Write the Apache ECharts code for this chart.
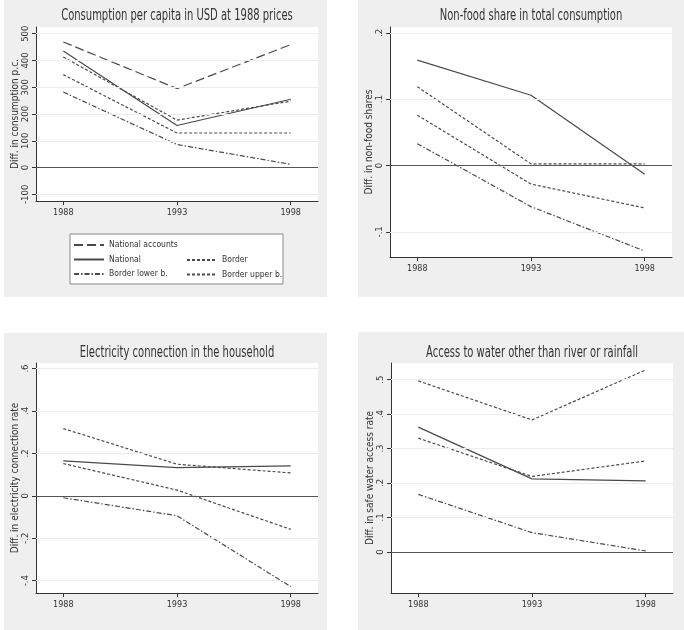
<!DOCTYPE html>
<html>
<head>
<meta charset="utf-8">
<script src="https://cdn.jsdelivr.net/npm/echarts@6/dist/echarts.min.js"></script>
<style>
  html, body { margin: 0; padding: 0; background: #fff; }
  #chart { width: 684px; height: 630px; }
</style>
</head>
<body>
<div id="chart"></div>
<script>
// survey years on the x axis
const years = [1988, 1993, 1998]

// consumption per capita (USD at 1988 prices)
const consNatAccounts = [469, 295, 459]
const consNational = [435, 157, 255]
const consBorder = [347, 129, 129]
const consLower = [282, 86, 12]
const consUpper = [413, 177, 248]
const consTicks = [-100, 0, 100, 200, 300, 400, 500]

// non-food share
const nonfoodNational = [0.159, 0.106, -0.013]
const nonfoodUpper = [0.119, 0.0025, 0.0025]
const nonfoodBorder = [0.076, -0.028, -0.064]
const nonfoodLower = [0.033, -0.062, -0.129]
const nonfoodTicks = [-0.1, 0, 0.1, 0.2]

// electricity connection
const elecNational = [0.165, 0.133, 0.141]
const elecUpper = [0.317, 0.149, 0.108]
const elecBorder = [0.152, 0.027, -0.158]
const elecLower = [-0.009, -0.094, -0.428]
const elecTicks = [-0.4, -0.2, 0, 0.2, 0.4, 0.6]

// safe water access
const waterNational = [0.362, 0.212, 0.206]
const waterUpper = [0.496, 0.383, 0.528]
const waterBorder = [0.330, 0.219, 0.264]
const waterLower = [0.167, 0.056, 0.003]
const waterTicks = [0, 0.1, 0.2, 0.3, 0.4, 0.5]

const FONT = '"Liberation Sans Narrow", "DejaVu Sans Condensed", "Liberation Sans", sans-serif'
const LINE = '#4a4a4a'

const dashes = {
  'National accounts': [9, 4],
  'National': 'solid',
  'Border': [3, 2],
  'Border lower b.': [5, 2, 1.5, 2],
  'Border upper b.': [3, 2]
}

// stata style: .2, -.1
function fmt(v) {
  if (Math.abs(v) >= 1) return String(v)
  const s = String(Math.round(v * 10) / 10)
  return s.replace('0.', '.')
}

function pairs(vals) {
  return years.map((y, i) => [y, vals[i]])
}

function line(name, vals, idx) {
  return {
    name: name,
    type: 'line',
    xAxisIndex: idx,
    yAxisIndex: idx,
    data: pairs(vals),
    symbol: 'none',
    z: 3,
    lineStyle: { color: LINE, width: 1.2, type: dashes[name] },
    itemStyle: { color: LINE },
    animation: false
  }
}

function gridLines(ticks, idx) {
  return {
    name: 'grid' + idx,
    type: 'line',
    xAxisIndex: idx,
    yAxisIndex: idx,
    data: [],
    z: 1,
    silent: true,
    animation: false,
    markLine: {
      silent: true,
      symbol: 'none',
      label: { show: false },
      animation: false,
      data: ticks.map(v => ({
        yAxis: v,
        lineStyle: { color: v === 0 ? '#555' : '#ececec', width: 1, type: 'solid' }
      }))
    }
  }
}

const panels = [
  { left: 36, top: 27, width: 282, height: 174, min: -125, max: 525, ticks: consTicks,
    title: 'Consumption per capita in USD at 1988 prices', name: 'Diff. in consumption p.c.' },
  { left: 390, top: 27, width: 282, height: 230, min: -0.138, max: 0.209, ticks: nonfoodTicks,
    title: 'Non-food share in total consumption', name: 'Diff. in non-food shares' },
  { left: 36, top: 363, width: 282, height: 230, min: -0.458, max: 0.626, ticks: elecTicks,
    title: 'Electricity connection in the household', name: 'Diff. in electricity connection rate' },
  { left: 391, top: 363, width: 282, height: 230, min: -0.119, max: 0.548, ticks: waterTicks,
    title: 'Access to water other than river or rainfall', name: 'Diff. in safe water access rate' }
]

const chart = echarts.init(document.getElementById('chart'), null, { renderer: 'canvas' })

const legendText = { fontFamily: FONT, fontSize: 8.5, color: '#333' }

chart.setOption({
  backgroundColor: '#fff',
  animation: false,
  graphic: [
    { type: 'rect', shape: { x: 4, y: 0, width: 323, height: 297 }, style: { fill: '#efefef' }, z: -10 },
    { type: 'rect', shape: { x: 358, y: 0, width: 326, height: 297 }, style: { fill: '#efefef' }, z: -10 },
    { type: 'rect', shape: { x: 4, y: 333, width: 323, height: 297 }, style: { fill: '#efefef' }, z: -10 },
    { type: 'rect', shape: { x: 358, y: 332, width: 326, height: 298 }, style: { fill: '#efefef' }, z: -10 },
    // legend box
    { type: 'rect', shape: { x: 70, y: 234, width: 213, height: 50 },
      style: { fill: '#fff', stroke: '#8a8a8a', lineWidth: 1 }, z: -5 }
  ].concat(panels.map((p, i) => ({
    type: 'text',
    x: p.left + 141,
    y: i < 2 ? 9 : 346,
    scaleX: 0.74,
    z: 10,
    style: {
      text: p.title, align: 'center', verticalAlign: 'top',
      font: '15px ' + FONT, fill: '#333'
    }
  }))),
  legend: [
    {
      left: 73, top: 240.5, padding: 0, orient: 'vertical', itemWidth: 30, itemHeight: 10, itemGap: 5.5,
      data: ['National accounts', 'National', 'Border lower b.'],
      itemStyle: { opacity: 0 },
      textStyle: legendText,
      selectedMode: false
    },
    {
      left: 186, top: 255.5, padding: 0, orient: 'vertical', itemWidth: 30, itemHeight: 10, itemGap: 5.5,
      data: ['Border', 'Border upper b.'],
      itemStyle: { opacity: 0 },
      textStyle: legendText,
      selectedMode: false
    }
  ],
  grid: panels.map(p => ({
    left: p.left, top: p.top, width: p.width, height: p.height,
    show: true, backgroundColor: '#fff', borderWidth: 0
  })),
  xAxis: panels.map((p, i) => ({
    type: 'value',
    gridIndex: i,
    min: 1986.8,
    max: 1999.2,
    axisLine: { show: true, onZero: false, lineStyle: { color: '#333', width: 1 } },
    axisTick: { show: true, length: 4, customValues: years, lineStyle: { color: '#333' } },
    axisLabel: {
      customValues: years, margin: 7, formatter: v => String(v),
      fontFamily: FONT, fontSize: 9, color: '#333'
    },
    splitLine: { show: false }
  })),
  yAxis: panels.map((p, i) => ({
    type: 'value',
    gridIndex: i,
    min: p.min,
    max: p.max,
    name: p.name,
    nameLocation: 'middle',
    nameRotate: 90,
    nameGap: 14,
    nameTextStyle: { fontFamily: FONT, fontSize: 10, color: '#333' },
    axisLine: { show: true, onZero: false, lineStyle: { color: '#333', width: 1 } },
    axisTick: { show: true, length: 4, customValues: p.ticks, lineStyle: { color: '#333' } },
    axisLabel: {
      customValues: p.ticks, rotate: 90, margin: 5, formatter: fmt,
      fontFamily: FONT, fontSize: 9.5, color: '#333'
    },
    splitLine: { show: false }
  })),
  series: [
    gridLines(consTicks, 0),
    line('National accounts', consNatAccounts, 0),
    line('National', consNational, 0),
    line('Border', consBorder, 0),
    line('Border lower b.', consLower, 0),
    line('Border upper b.', consUpper, 0),

    gridLines(nonfoodTicks, 1),
    line('National', nonfoodNational, 1),
    line('Border upper b.', nonfoodUpper, 1),
    line('Border', nonfoodBorder, 1),
    line('Border lower b.', nonfoodLower, 1),

    gridLines(elecTicks, 2),
    line('National', elecNational, 2),
    line('Border upper b.', elecUpper, 2),
    line('Border', elecBorder, 2),
    line('Border lower b.', elecLower, 2),

    gridLines(waterTicks, 3),
    line('National', waterNational, 3),
    line('Border upper b.', waterUpper, 3),
    line('Border', waterBorder, 3),
    line('Border lower b.', waterLower, 3)
  ]
})
</script>
</body>
</html>
